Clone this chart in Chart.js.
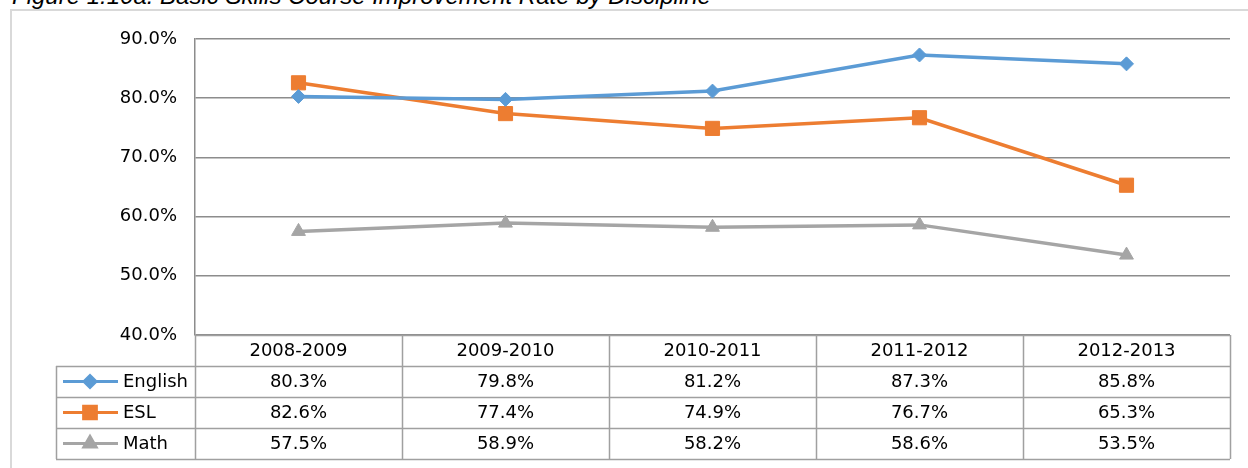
<!DOCTYPE html>
<html>
<head>
<meta charset="utf-8">
<script src="https://cdn.jsdelivr.net/npm/chart.js@4.4.1/dist/chart.umd.min.js"></script>
<style>
  html, body { margin: 0; padding: 0; background: #fff; overflow: hidden; }
  #wrap { position: relative; width: 1248px; height: 468px; }
  #frame { position: absolute; left: 10px; top: 9px; width: 1240px; height: 470px;
           border-left: 2px solid #d9d9d9; border-top: 2px solid #d9d9d9; box-sizing: border-box; }
  #title { position: absolute; left: 12px; top: -18px; font: italic 24px "Liberation Sans", Arial, sans-serif;
           color: #000; white-space: nowrap; }
  canvas { position: absolute; left: 0; top: 0; }
</style>
</head>
<body>
<div id="wrap">
  <div id="frame"></div>
  <div id="title">Figure 1.10a: Basic Skills Course Improvement Rate by Discipline</div>
  <canvas id="c" width="1248" height="468"></canvas>
</div>
<script>
const categories = ["2008-2009", "2009-2010", "2010-2011", "2011-2012", "2012-2013"];
const seriesNames = ["English", "ESL", "Math"];
const englishValues = [80.3, 79.8, 81.2, 87.3, 85.8];
const eslValues = [82.6, 77.4, 74.9, 76.7, 65.3];
const mathValues = [57.5, 58.9, 58.2, 58.6, 53.5];
const yTicks = [40, 50, 60, 70, 80, 90];

const colors = ["#5b9bd5", "#ed7d31", "#a5a5a5"];
const markers = ["rectRot", "rect", "triangle"];
const markerRadius = [7, 10, 8];
const allValues = [englishValues, eslValues, mathValues];

const FONT = '"DejaVu Sans", Verdana, sans-serif';
const GRID = "#8c8c8c";
const TABLE_LINE = "#a0a0a0";
const ROW_H = 31;

const tablePlugin = {
  id: "dataTable",
  afterDraw(chart) {
    const ctx = chart.ctx;
    const area = chart.chartArea;
    const xs = chart.scales.x;
    const n = categories.length;
    const centers = categories.map((_, i) => xs.getPixelForValue(i));
    const bounds = [area.left];
    for (let i = 0; i < n - 1; i++) bounds.push((centers[i] + centers[i + 1]) / 2);
    bounds.push(area.right);
    const top = area.bottom;
    const tableLeft = 56;
    const bottom = top + ROW_H * (seriesNames.length + 1);

    ctx.save();
    ctx.strokeStyle = TABLE_LINE;
    ctx.lineWidth = 1.5;
    ctx.beginPath();
    ctx.moveTo(area.left, top + 0.5); ctx.lineTo(area.right, top + 0.5);
    for (let r = 1; r <= seriesNames.length + 1; r++) {
      const y = Math.round(top + r * ROW_H) + 0.5;
      ctx.moveTo(tableLeft, y); ctx.lineTo(area.right, y);
    }
    bounds.forEach((bx) => {
      const x = Math.round(bx) + 0.5;
      ctx.moveTo(x, top); ctx.lineTo(x, bottom);
    });
    ctx.moveTo(tableLeft + 0.5, top + ROW_H); ctx.lineTo(tableLeft + 0.5, bottom);
    ctx.stroke();

    ctx.fillStyle = "#000";
    ctx.font = "18px " + FONT;
    ctx.textAlign = "center";
    ctx.textBaseline = "middle";
    categories.forEach((c, i) => ctx.fillText(c, centers[i], top + ROW_H / 2 + 1));
    allValues.forEach((vals, s) => {
      const yMid = top + ROW_H * (s + 1) + ROW_H / 2 + 1;
      vals.forEach((v, i) => ctx.fillText(v.toFixed(1) + "%", centers[i], yMid));
      const ly = top + ROW_H * (s + 1) + ROW_H / 2;
      ctx.strokeStyle = colors[s];
      ctx.lineWidth = 3;
      ctx.beginPath();
      ctx.moveTo(63, ly); ctx.lineTo(118, ly);
      ctx.stroke();
      ctx.fillStyle = colors[s];
      Chart.helpers.drawPoint(ctx, { pointStyle: markers[s], radius: markerRadius[s] - 1, borderWidth: 1 }, 90, ly);
      ctx.fillStyle = "#000";
      ctx.textAlign = "left";
      ctx.fillText(seriesNames[s], 123, yMid);
      ctx.textAlign = "center";
    });
    ctx.restore();
  }
};

new Chart(document.getElementById("c"), {
  type: "line",
  data: {
    labels: categories,
    datasets: seriesNames.map((name, s) => ({
      label: name,
      data: allValues[s],
      borderColor: colors[s],
      backgroundColor: colors[s],
      borderWidth: 3.5,
      pointStyle: markers[s],
      pointRadius: markerRadius[s],
      pointBorderWidth: 1,
      pointBorderColor: colors[s],
      tension: 0,
      fill: false
    }))
  },
  options: {
    responsive: false,
    animation: false,
    devicePixelRatio: 1,
    layout: { padding: { left: 0, top: 39, right: 18, bottom: 133 } },
    plugins: { legend: { display: false }, tooltip: { enabled: false }, title: { display: false } },
    scales: {
      x: {
        type: "category",
        offset: true,
        display: false,
        grid: { display: false }
      },
      y: {
        min: yTicks[0],
        max: yTicks[yTicks.length - 1],
        afterFit(scale) { scale.width = 195; },
        afterBuildTicks(scale) { scale.ticks = yTicks.map(v => ({ value: v })); },
        ticks: {
          padding: 18,
          color: "#000",
          font: { family: FONT, size: 18 },
          callback: v => Number(v).toFixed(1) + "%"
        },
        grid: { color: GRID, lineWidth: 1.5, drawTicks: false },
        border: { display: true, color: GRID, width: 1.5 }
      }
    }
  },
  plugins: [tablePlugin]
});
</script>
</body>
</html>
